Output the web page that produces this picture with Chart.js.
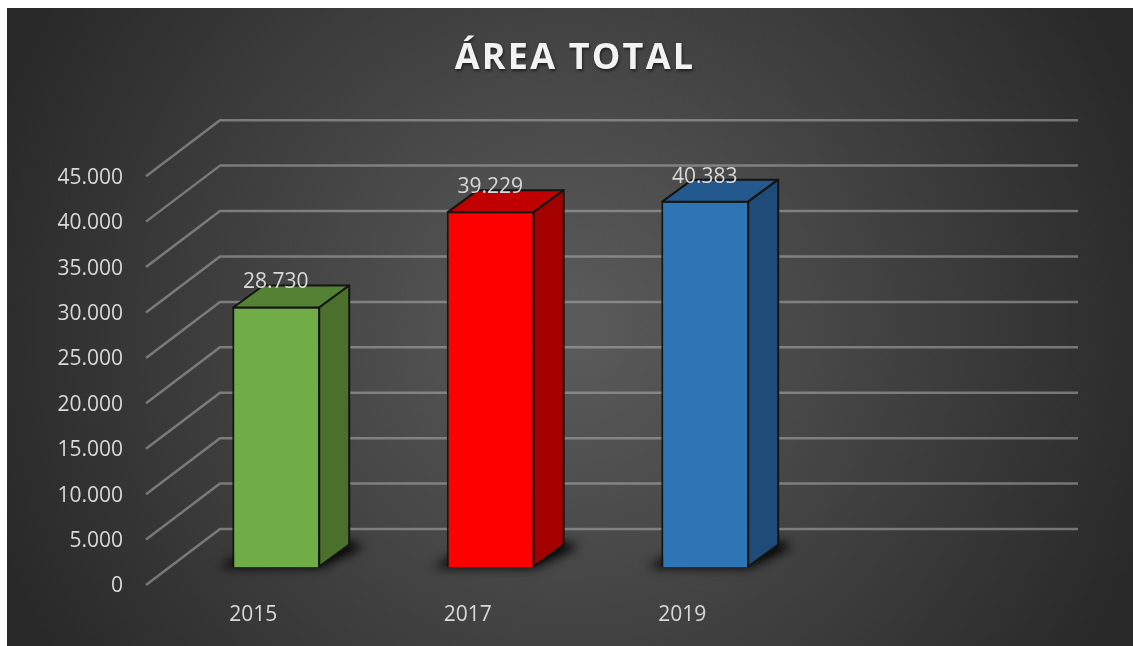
<!DOCTYPE html>
<html><head><meta charset="utf-8">
<style>html,body{margin:0;padding:0;background:#fff}#w{width:1133px;height:646px}canvas{display:block}</style>
<script src="https://cdn.jsdelivr.net/npm/chart.js@4/dist/chart.umd.min.js"></script>
</head><body><div id="w"><canvas id="c" width="1133" height="646"></canvas></div>
<script>
const categories = ['2015', '2017', '2019', ''];
const areaValues = [28730, 39229, 40383, null];
const frontColors = ['#70AD47', '#FF0000', '#2E75B6', '#000'];
const topColors = ['#548235', '#C00000', '#23598C', '#000'];
const sideColors = ['#4A702C', '#A50000', '#1F4B78', '#000'];
const titleText = 'ÁREA TOTAL';
const FONT = '"Open Sans", sans-serif';
const TEXT = '#D9D9D9', EDGE = '#141414';
const fmt = v => String(v).replace(/\B(?=(\d{3})+$)/g, '.');
const WALL = {dx: 74, dy: -56}, BAR = {x: 23, y: -17.5}, DEPTH = {dx: 30, dy: -22};

const backdrop = {id: 'backdrop', beforeDraw(ch) {
  const c = ch.ctx, g = c.createRadialGradient(570, 327, 20, 570, 327, 610);
  g.addColorStop(0, '#5A5A5A'); g.addColorStop(1, '#292929');
  c.save(); c.fillStyle = '#fff'; c.fillRect(0, 0, 1133, 646);
  c.fillStyle = g; c.fillRect(7, 8, 1126, 638); c.restore();
}};

const wall = {id: 'wall', beforeDatasetsDraw(ch) {
  const c = ch.ctx, y = ch.scales.y, x = ch.scales.x;
  c.save(); c.lineCap = 'butt'; c.lineJoin = 'round';
  y.ticks.forEach(t => {
    const py = y.getPixelForValue(t.value);
    c.lineWidth = 2.5; c.strokeStyle = 'rgba(175,175,175,.55)';
    c.beginPath(); c.moveTo(x.left, py);
    c.lineTo(x.left + WALL.dx, py + WALL.dy);
    c.lineTo(x.right + WALL.dx, py + WALL.dy); c.stroke();
  });
  const m = ch.getDatasetMeta(0);
  m.data.forEach((b, i) => {
    if (areaValues[i] == null) return;
    const l = b.x - b.width / 2 + BAR.x, r = b.x + b.width / 2 + BAR.x, bt = b.base + BAR.y;
    const off = 3000;
    c.save(); c.shadowColor = 'rgba(0,0,0,1)'; c.shadowBlur = 11; c.shadowOffsetX = off; c.fillStyle = '#000';
    c.beginPath(); c.moveTo(l - 14 - off, bt); c.lineTo(r - off, bt);
    c.lineTo(r + DEPTH.dx + 14 - off, bt + DEPTH.dy + 1); c.lineTo(r + DEPTH.dx - off, bt + DEPTH.dy - 4);
    c.lineTo(l + 6 - off, bt - 11);
    c.closePath(); c.fill(); c.restore();
  });
  c.restore();
}};

const shift = {id: 'shift',
  beforeDatasetDraw(ch) { ch.ctx.save(); ch.ctx.translate(BAR.x, BAR.y); },
  afterDatasetDraw(ch) {
    const c = ch.ctx;
    ch.getDatasetMeta(0).data.forEach((b, i) => {
      if (areaValues[i] == null) return;
      const l = b.x - b.width / 2 + 1, r = b.x + b.width / 2 - 1, t = b.y + 1, bt = b.base - 1;
      const dx = DEPTH.dx, dy = DEPTH.dy;
      c.lineWidth = 2; c.strokeStyle = EDGE; c.lineJoin = 'round';
      c.fillStyle = topColors[i];
      c.beginPath(); c.moveTo(l, t); c.lineTo(l + dx, t + dy); c.lineTo(r + dx, t + dy); c.lineTo(r, t); c.closePath(); c.fill(); c.stroke();
      c.fillStyle = sideColors[i];
      c.beginPath(); c.moveTo(r, t); c.lineTo(r + dx, t + dy); c.lineTo(r + dx, bt + dy); c.lineTo(r, bt); c.closePath(); c.fill(); c.stroke();
    });
    c.restore();
    c.save(); c.font = '21px ' + FONT; c.fillStyle = TEXT; c.textAlign = 'center'; c.textBaseline = 'middle';
    ch.getDatasetMeta(0).data.forEach((b, i) => {
      if (areaValues[i] == null) return;
      c.fillText(fmt(areaValues[i]), b.x + BAR.x - 0.5, b.y + BAR.y - 24);
    });
    c.restore();
  }};

const textTweaks = {id: 'textTweaks', afterLayout(ch) {
  const tb = ch.titleBlock, ys = ch.scales.y;
  if (tb && !tb._wrapped) {
    const d = tb.draw.bind(tb);
    tb.draw = () => {
      const c = ch.ctx; c.save(); c.letterSpacing = '2.2px';
      c.shadowColor = 'rgba(0,0,0,.55)'; c.shadowBlur = 3; c.shadowOffsetX = 1; c.shadowOffsetY = 2;
      d(); c.restore();
    };
    tb._wrapped = true;
  }
  if (!ys._wrapped) {
    const dl = ys.drawLabels.bind(ys);
    ys.drawLabels = a => { ch.ctx.save(); ch.ctx.translate(0, 1.5); dl(a); ch.ctx.restore(); };
    ys._wrapped = true;
  }
}};

new Chart(document.getElementById('c'), {
  type: 'bar',
  data: {labels: categories, datasets: [{data: areaValues, backgroundColor: frontColors,
    borderColor: EDGE, borderWidth: 2, barPercentage: 0.41, categoryPercentage: 1}]},
  plugins: [backdrop, wall, shift, textTweaks],
  options: {
    responsive: false, animation: false,
    layout: {padding: {left: 0, right: 129, top: 0, bottom: 0}, autoPadding: false},
    plugins: {legend: {display: false}, tooltip: {enabled: false},
      title: {display: true, text: titleText, fullSize: false, color: '#F2F2F2',
        font: {family: FONT, size: 36, weight: 'bold'}, padding: {top: 37, bottom: 96}}},
    scales: {
      x: {grid: {display: false, drawTicks: false}, border: {display: false},
        afterFit: s => { s.height = 61; },
        ticks: {color: TEXT, font: {family: FONT, size: 21}, padding: 17, maxRotation: 0, autoSkip: false}},
      y: {min: 0, max: 45000, grid: {display: false, drawTicks: false}, border: {display: false},
        afterFit: s => { s.width = 146; },
        ticks: {stepSize: 5000, color: TEXT, font: {family: FONT, size: 21}, padding: 23, callback: v => fmt(v)}}
    }
  }
});
</script></body></html>
